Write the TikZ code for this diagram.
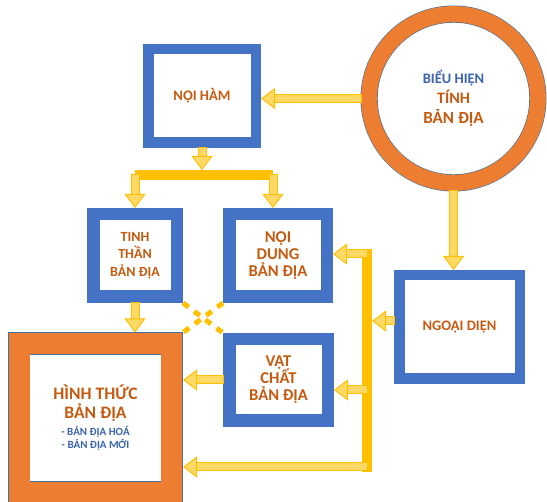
\documentclass[tikz,border=0pt]{standalone}
\usepackage{fontspec}
\setmainfont{Carlito}
\usetikzlibrary{arrows.meta,calc}
\definecolor{boxblue}{HTML}{4472C4}
\definecolor{ringorange}{HTML}{ED7D31}
\definecolor{edgeblue}{HTML}{41719C}
\definecolor{gold}{HTML}{FFC000}
\definecolor{lightgold}{HTML}{FFD966}
\definecolor{txtorange}{HTML}{C55A11}
\definecolor{txtblue}{HTML}{3A63B0}
\lineskiplimit=-50pt

\begin{document}
\begin{tikzpicture}[
  x=1pt, y=-1pt,
  font=\bfseries,
  box/.style={
    rectangle, draw=boxblue, line width=10.5pt, outer sep=5.25pt,
    align=center, text=txtorange, inner sep=0pt
  },
  thickbox/.style={box, line width=12.5pt, outer sep=6.25pt},
  ring/.style={
    draw=edgeblue, line width=0.6pt, double=ringorange, double distance=#1,
    align=center, text=txtorange, inner sep=0pt
  },
  arr/.style={draw=lightgold, line width=7pt,
    preaction={draw=gold, line width=9pt, -, shorten >=9pt, shorten <=-1pt},
    -{Triangle[length=14pt, width=21pt, color=gold, fill=lightgold, line width=1pt]}},
  bar/.style={draw=gold, line width=10pt},
  dsh/.style={draw=gold, line width=5pt, dash pattern=on 7pt off 7pt},
]
\useasboundingbox (0,0) rectangle (547,502);

\node[box, minimum width=107.5pt, minimum height=93.5pt, font=\bfseries\fontsize{14.5}{17}\selectfont] (NH) at (202,96) {NỘI HÀM};
\node[ring=16pt, circle, minimum size=168.8pt, outer sep=8.6pt, font=\bfseries\fontsize{16}{20}\selectfont] (BH) at (453.5,98.5)
  {{\fontsize{14.5}{20}\selectfont\color{txtblue}BIỂU HIỆN}\\
   TÍNH\\
   {\fontsize{17}{20}\selectfont BẢN ĐỊA}};
\node[thickbox, minimum width=83.5pt, minimum height=82.5pt, font=\bfseries\fontsize{14}{17.5}\selectfont] (TT) at (135,255.5) {TINH\\ THẦN\\ BẢN ĐỊA};
\node[thickbox, minimum width=97.5pt, minimum height=82.5pt, font=\bfseries\fontsize{16.5}{17}\selectfont] (ND) at (278,255.5) {NỘI\\ DUNG\\ BẢN ĐỊA};
\node[thickbox, minimum width=98.5pt, minimum height=81.5pt, font=\bfseries\fontsize{16.5}{17}\selectfont] (VC) at (278.5,380) {VẬT\\ CHẤT\\ BẢN ĐỊA};
\node[box, minimum width=120.5pt, minimum height=103.5pt, font=\bfseries\fontsize{14.5}{17}\selectfont] (NG) at (459.5,327) {NGOẠI DIỆN};
\node[ring=21pt, rectangle, minimum width=152.8pt, minimum height=148.8pt, outer sep=11.1pt, font=\bfseries\fontsize{17.5}{13}\selectfont] (HT) at (95.5,418)
  {HÌNH THỨC\\[6pt] BẢN ĐỊA\\[4pt]
   {\fontsize{11}{13}\selectfont\color{txtblue}- BẢN ĐỊA HOÁ}\\
   {\fontsize{11}{13}\selectfont\color{txtblue}- BẢN ĐỊA MỚI}};

\coordinate (J1) at (135,175);
\coordinate (J2) at (273,175);
\coordinate (K1) at (367,254);
\coordinate (K3) at (367,321);
\coordinate (K4) at (367,390);
\coordinate (K2) at (367,467);

\draw[bar] (J1) -- (J2);
\draw[bar, line cap=rect] (K1) -- (K2);

\draw[arr] (BH.west) -- (BH.west -| NH.east);
\draw[arr] (BH.south) -- (BH.south |- NG.north);
\draw[arr] (NH.south) -- ($(NH.south |- J1)+(0,-5)$);
\draw[arr] (J1) -- (J1 |- TT.north);
\draw[arr] (J2) -- (J2 |- ND.north);
\draw[arr] (K1) -- (K1 -| ND.east);
\draw[arr] (K3 -| NG.west) -- ($(K3)+(5,0)$);
\draw[arr] (K4) -- (K4 -| VC.east);
\draw[arr] (K2) -- (K2 -| HT.east);
\draw[arr] (VC.west) -- (VC.west -| HT.east);
\draw[arr] (TT.south) -- (TT.south |- HT.north);

\draw[dsh] (TT.south east) -- (VC.north west);
\draw[dsh] (ND.south west) -- (HT.north east);

\end{tikzpicture}
\end{document}
